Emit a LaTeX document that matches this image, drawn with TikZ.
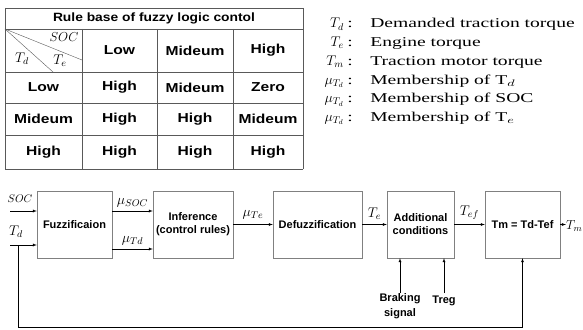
\documentclass[tikz,border=0pt]{standalone}
\usepackage{fix-cm}
\usepackage{fontspec}
\setmainfont{Liberation Serif}
\setsansfont{Liberation Sans}
\usetikzlibrary{arrows}
\tikzstyle{blk}=[draw=black!50,minimum height=67pt,inner sep=1pt,font=\fontsize{11}{13}\selectfont\sffamily\bfseries,align=center]
\tikzstyle{sig}=[-latex,black]
\tikzstyle{grid}=[black!65]
\tikzstyle{cell}=[font=\fontsize{13}{15}\selectfont\sffamily\bfseries,xscale=1.2,inner sep=0pt]
\tikzstyle{lgd}=[font=\fontsize{13.5}{16}\selectfont,xscale=1.45,anchor=base west,inner sep=0pt]
\tikzstyle{sym}=[font=\fontsize{14}{16}\selectfont,anchor=base east,inner sep=0pt]
\tikzstyle{lbl}=[font=\fontsize{14}{16}\selectfont,inner sep=0pt]
\tikzstyle{note}=[font=\fontsize{11}{15}\selectfont\sffamily\bfseries,align=center,anchor=north,inner sep=0pt]

\begin{document}
\begin{tikzpicture}[x=1pt,y=-1pt]
	\useasboundingbox (0,0) rectangle (583,329);

	% rule table
	\foreach \x in {5,82,157,233,303} \draw[grid] (\x,29) -- (\x,169);
	\foreach \y in {8,29,72,103,135,169} \draw[grid] (5,\y) -- (303,\y);
	\draw[grid] (5,8) -- (5,29);
	\draw[grid] (303,8) -- (303,29);
	\draw[grid] (5,29) -- (82,60);
	\draw[grid] (5,29) -- (53,72);

	\node[cell,font=\fontsize{12}{14}\selectfont\sffamily\bfseries,xscale=0.96] (title) at (154,18.5) {Rule base of fuzzy logic contol};
	\node[lbl,font=\fontsize{13}{15}\selectfont] (soc) at (64,37) {$SOC$};
	\node[lbl] (td) at (22,59) {$T_d$};
	\node[lbl] (te) at (60,61) {$T_e$};

	\foreach \a/\b/\c/\d/\r/\y in {{}/Low/Mideum/High/0/50.5, Low/High/Mideum/Zero/1/87.5,
		Mideum/High/High/Mideum/2/119, High/High/High/High/3/152} {
		\node[cell] (c\r1) at (43.5,\y) {\a};
		\node[cell] (c\r2) at (119.5,\y) {\b};
		\node[cell] (c\r3) at (195,\y) {\c};
		\node[cell] (c\r4) at (268,\y) {\d};
	}

	% legend
	\foreach \s/\t/\y [count=\i] in {{$T_d$}/{Demanded traction torque}/28,
		{$T_e$}/{Engine torque}/46.5, {$T_m$}/{Traction motor torque}/65,
		{$\mu_{T_d}$}/{Membership of T$_d$}/84, {$\mu_{T_d}$}/{Membership of SOC}/102.5,
		{$\mu_{T_d}$}/{Membership of T$_e$}/121} {
		\node[sym] (s\i) at (344,\y) {\s};
		\node[lgd] (l\i) at (347,\y) {:\hspace{0.9em}\t};
	}

	% block diagram
	\node[blk,minimum width=75pt] (fuzz) at (74.5,224.5) {Fuzzificaion};
	\node[blk,minimum width=80pt] (infer) at (193,224.5) {Inference\\(control rules)};
	\node[blk,minimum width=89pt] (defuzz) at (317.5,224.5) {Defuzzification};
	\node[blk,minimum width=67pt] (addc) at (420.5,224.5) {Additional\\conditions};
	\node[blk,minimum width=75pt] (tm) at (522.5,224.5) {Tm = Td-Tef};

	\coordinate (socin) at (10,211);
	\coordinate (tdin) at (10,245);
	\coordinate (split) at (18,245);
	\coordinate (brk) at (400,293);
	\coordinate (treg) at (444,293);

	\draw[sig] (socin) -- (socin -| fuzz.west);
	\draw[sig] (tdin) -- (tdin -| fuzz.west);
	\node[lbl,font=\fontsize{11}{13}\selectfont] (socl) at (20,199) {$SOC$};
	\node[lbl] (tdl) at (16,232) {$T_d$};

	\draw[sig] (fuzz.east |- socin) -- (infer.west |- socin) node[lbl,midway,above=4pt] (msoc) {$\mu_{SOC}$};
	\draw[sig] (112,249) -- (infer.west |- 0,249) node[lbl,midway,above=4pt] (mtd) {$\mu_{Td}$};
	\draw[sig] (infer) -- (defuzz) node[lbl,midway,above=5pt] (mte) {$\mu_{Te}$};
	\draw[sig] (defuzz) -- (addc) node[lbl,midway,above=5pt] (tel) {$T_e$};
	\draw[sig] (addc) -- (tm) node[lbl,midway,above=5pt] (tefl) {$T_{ef}$};
	\node[lbl,font=\fontsize{13}{15}\selectfont,anchor=east] (tml) at (582.5,226) {$T_m$};
	\draw[sig] (tm) -- (tm -| tml.west);

	\draw[sig] (brk) -- (brk |- addc.south);
	\draw[sig] (treg) -- (treg |- addc.south);
	\node[note] (brkl) at (brk) {Braking\\signal};
	\node[note,yshift=-3pt] (tregl) at (treg) {Treg};

	\draw[sig] (split) -- (18,327) -- (tm.south |- 0,327) -- (tm.south);

\end{tikzpicture}
\end{document}
